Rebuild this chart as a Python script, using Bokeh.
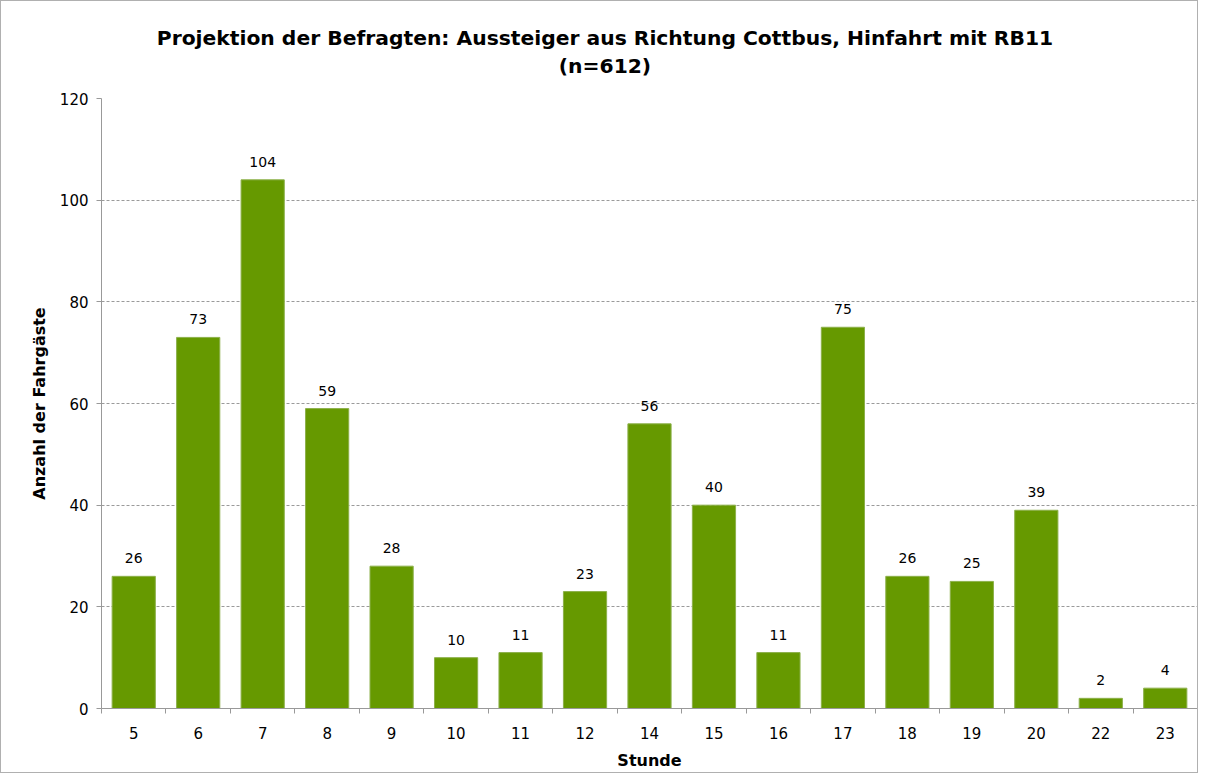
from bokeh.plotting import figure
from bokeh.models import ColumnDataSource, FixedTicker, Range1d, LabelSet, Div
from bokeh.layouts import column
from bokeh.core.properties import value
from bokeh.embed import file_html
from bokeh.resources import INLINE

title_lines = ["Projektion der Befragten: Aussteiger aus Richtung Cottbus, Hinfahrt mit RB11", "(n=612)"]
stunden = ["5", "6", "7", "8", "9", "10", "11", "12", "14", "15", "16", "17", "18", "19", "20", "22", "23"]
anzahl = [26, 73, 104, 59, 28, 10, 11, 23, 56, 40, 11, 75, 26, 25, 39, 2, 4]
y_ticks = [0, 20, 40, 60, 80, 100, 120]

FONT = "DejaVu Sans"
W = 1196
pos = [i + 0.5 for i in range(len(stunden))]
src = ColumnDataSource(dict(x=pos, y=anzahl, lab=[str(v) for v in anzahl]))

title = Div(text="<br>".join(title_lines), width=W, height=84, margin=0,
            styles={"text-align": "center", "font-family": FONT, "font-weight": "bold",
                    "font-size": "20.3px", "line-height": "28px", "padding-top": "23px",
                    "padding-left": "12px",
                    "color": "black", "box-sizing": "border-box", "width": f"{W}px"})

p = figure(width=W, height=687, output_backend="svg", toolbar_location=None,
           x_range=Range1d(0, len(stunden)), y_range=Range1d(0, 120),
           min_border_left=100, min_border_right=0, min_border_top=13, min_border_bottom=57,
           margin=0)
p.outline_line_color = None

p.vbar(x="x", top="y", width=0.67, source=src, fill_color="#669900", line_color="#8cb04a", line_width=1)

labels = LabelSet(x="x", y="y", text="lab", source=src, text_align="center", text_baseline="bottom",
                  y_offset=13, text_font=value(FONT), text_font_size=value("14px"), text_color="black")
p.add_layout(labels)

xa = p.xaxis[0]
xa.ticker = FixedTicker(ticks=pos, minor_ticks=list(range(len(stunden) + 1)))
xa.major_label_overrides = {pos[i]: s for i, s in enumerate(stunden)}
xa.major_tick_out = 0
xa.major_tick_in = 0
xa.minor_tick_out = 5
xa.minor_tick_in = 0
xa.minor_tick_line_color = "#999999"
xa.axis_line_color = "#999999"
xa.major_label_text_font = FONT
xa.major_label_text_font_size = "15px"
xa.major_label_text_color = "black"
xa.major_label_standoff = 13
xa.axis_label = "Stunde"
xa.axis_label_text_font = FONT
xa.axis_label_text_font_size = "16px"
xa.axis_label_text_font_style = "bold"
xa.axis_label_text_color = "black"
xa.axis_label_standoff = 9

ya = p.yaxis[0]
ya.ticker = FixedTicker(ticks=y_ticks)
ya.minor_tick_line_color = None
ya.major_tick_out = 5
ya.major_tick_in = 0
ya.major_tick_line_color = "#999999"
ya.axis_line_color = "#999999"
ya.major_label_text_font = FONT
ya.major_label_text_font_size = "15px"
ya.major_label_text_color = "black"
ya.major_label_standoff = 8
ya.axis_label = "Anzahl der Fahrgäste"
ya.axis_label_text_font = FONT
ya.axis_label_text_font_size = "16px"
ya.axis_label_text_font_style = "bold"
ya.axis_label_text_color = "black"
ya.axis_label_standoff = 8

p.xgrid.grid_line_color = None
p.ygrid.grid_line_color = "#9a9a9a"
p.ygrid.grid_line_dash = "3 2"
p.ygrid.grid_line_width = 1

layout = column(title, p, spacing=0, styles={"border": "1px solid #b0b0b0"})

open("out.html", "w").write(file_html(layout, INLINE))
